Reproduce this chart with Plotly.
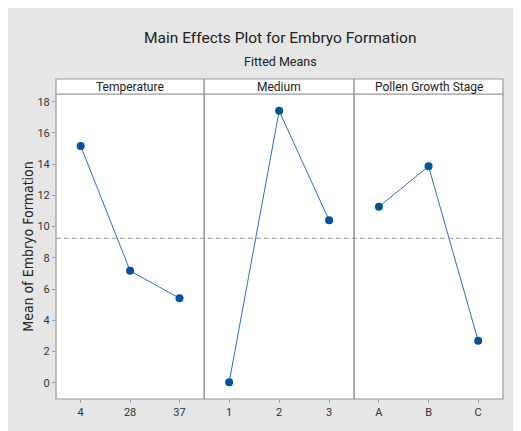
import plotly.graph_objects as go

# ---- data ----
temperature_levels = ["4", "28", "37"]
temperature_means = [15.16, 7.17, 5.41]
medium_levels = ["1", "2", "3"]
medium_means = [0.03, 17.41, 10.40]
stage_levels = ["A", "B", "C"]
stage_means = [11.27, 13.86, 2.69]
panel_titles = ["Temperature", "Medium", "Pollen Growth Stage"]
grand_mean = 9.25
y_ticks = [0, 2, 4, 6, 8, 10, 12, 14, 16, 18]

# page has an 8px body margin; figure starts at (8, 8)
OFF = 8
W, H = 521 - OFF, 431 - OFF
PL, PR, PT, PB = 56, 503.3, 94, 399          # plot area in page pixels
ML, MT = PL - OFF, PT - OFF
MR, MB = W - (PR - OFF), H - (PB - OFF)
PW = PR - PL
PH = PB - PT

FONT = "Roboto, Arial, sans-serif"
MARKER = "#0052a3"
LINE = "#2a6cc8"
FRAME = "#9a9a9a"

domains = [[0, 148.3 / PW], [148.3 / PW, 298.3 / PW], [298.3 / PW, 1]]
series = [(temperature_levels, temperature_means),
          (medium_levels, medium_means),
          (stage_levels, stage_means)]

fig = go.Figure()
axnames = ["x", "x2", "x3"]
for i, (lv, mv) in enumerate(series):
    fig.add_trace(go.Scatter(
        x=lv, y=mv, xaxis=axnames[i], yaxis="y", mode="lines+markers",
        line=dict(color=LINE, width=1),
        marker=dict(color=MARKER, size=8),
        showlegend=False, hoverinfo="x+y"))

layout = dict(
    width=W, height=H,
    margin=dict(l=ML, r=MR, t=MT, b=MB, autoexpand=False),
    paper_bgcolor="#e6e6e6",
    plot_bgcolor="white",
    font=dict(family=FONT, size=12, color="#222"),
    showlegend=False,
    yaxis=dict(range=[-1.04, 18.49], tickvals=y_ticks, ticks="outside",
               ticklen=3, tickcolor=FRAME, showgrid=False, zeroline=False,
               showline=False, tickfont=dict(size=11, color="#333"),
               anchor="x", automargin=False,
               title=dict(text="Mean of Embryo Formation", standoff=0,
                          font=dict(size=14, family="DejaVu Sans Condensed, DejaVu Sans, sans-serif", color="#222"))),
)
for i, name in enumerate(["xaxis", "xaxis2", "xaxis3"]):
    layout[name] = dict(domain=domains[i], type="category", range=[-0.5, 2.5],
                        ticks="outside", ticklen=3, tickcolor=FRAME,
                        showgrid=False, zeroline=False, showline=False,
                        automargin=False,
                        tickfont=dict(size=11, color="#333"), anchor="y")
fig.update_layout(**layout)

shapes = []
strip_h = 15 / PH
for i, d in enumerate(domains):
    shapes.append(dict(type="rect", xref="paper", yref="paper",
                       x0=d[0], x1=d[1], y0=0, y1=1,
                       line=dict(color=FRAME, width=1.2), fillcolor="rgba(0,0,0,0)"))
    shapes.append(dict(type="rect", xref="paper", yref="paper",
                       x0=d[0], x1=d[1], y0=1, y1=1 + strip_h,
                       line=dict(color=FRAME, width=1.2), fillcolor="white"))
    fig.add_annotation(x=(d[0] + d[1]) / 2, y=1 + strip_h / 2, xref="paper", yref="paper",
                       text=panel_titles[i], showarrow=False,
                       font=dict(size=12, color="#222"),
                       xanchor="center", yanchor="middle")
shapes.append(dict(type="line", xref="paper", yref="y", x0=0, x1=1,
                   y0=grand_mean, y1=grand_mean,
                   line=dict(color="#999999", width=1, dash="5px,3px")))
fig.update_layout(shapes=shapes)

fig.add_annotation(x=(280 - PL) / PW, y=1 + (PT - 38) / PH, xref="paper", yref="paper",
                   text="Main Effects Plot for Embryo Formation", showarrow=False,
                   font=dict(size=15.5, color="#222"), xanchor="center", yanchor="middle")
fig.add_annotation(x=(281 - PL) / PW, y=1 + (PT - 61) / PH, xref="paper", yref="paper",
                   text="Fitted Means", showarrow=False,
                   font=dict(size=12.5, color="#222"), xanchor="center", yanchor="middle")

fig.write_html("out.html")
